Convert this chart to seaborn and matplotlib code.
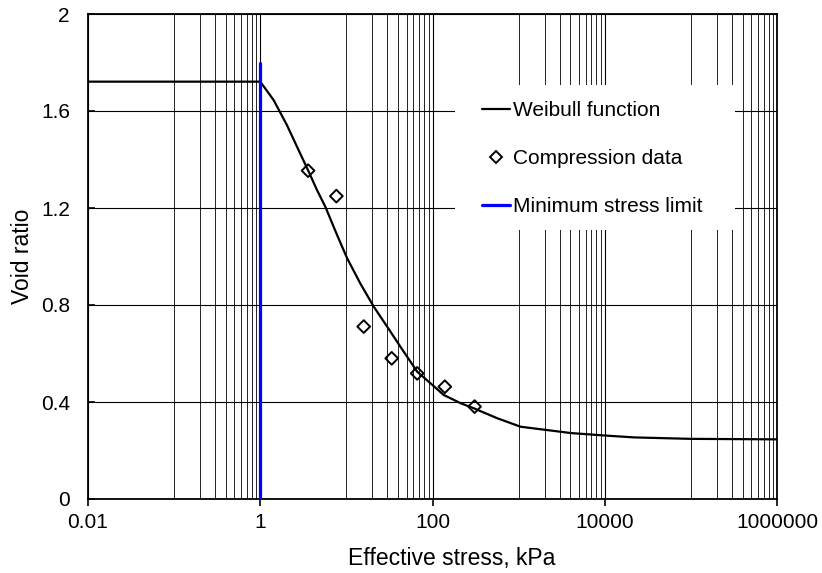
import numpy as np
import pandas as pd
import matplotlib
matplotlib.use("Agg")
import matplotlib.pyplot as plt
from matplotlib.patches import Rectangle
from matplotlib.lines import Line2D
import seaborn as sns

# ---- data ----
weibull_stress = [0.01, 1.0, 1.43, 2.04, 2.67, 3.65, 4.56, 5.70, 7.79, 10.2, 14.5,
                  20.8, 29.7, 42.4, 66.4, 94.8, 135, 212, 302, 565, 1055, 4030,
                  9800, 21900, 100000, 1000000]
weibull_void = [1.721, 1.721, 1.645, 1.542, 1.453, 1.350, 1.274, 1.205, 1.089, 0.993,
                0.889, 0.793, 0.711, 0.628, 0.525, 0.477, 0.429, 0.395, 0.374, 0.333,
                0.298, 0.272, 0.262, 0.254, 0.248, 0.246]

comp_stress = [3.59, 7.65, 15.9, 33.6, 66.4, 139, 308]
comp_void = [1.354, 1.249, 0.711, 0.580, 0.518, 0.463, 0.381]

limit_stress = [1.0, 1.0]
limit_void = [0.0, 1.80]

x_ticks = [0.01, 1, 100, 10000, 1000000]
x_tick_labels = ["0.01", "1", "100", "10000", "1000000"]
y_ticks = [0, 0.4, 0.8, 1.2, 1.6, 2.0]
y_tick_labels = ["0", "0.4", "0.8", "1.2", "1.6", "2"]
minor_mult = [1, 2, 3, 4, 5, 6, 7, 8, 9]
minor_decades = [-1, 1, 3, 5]

labels = ["Weibull function", "Compression data", "Minimum stress limit"]

# ---- style ----
sns.set_theme(style="white")
plt.rcParams["font.family"] = ["Liberation Sans", "DejaVu Sans"]
plt.rcParams["text.color"] = "black"

fig = plt.figure(figsize=(8.22, 5.73), dpi=100)
ax = fig.add_axes([88 / 822, 1 - 499 / 573, (777 - 88) / 822, (499 - 14) / 573])

df_w = pd.DataFrame({"stress": weibull_stress, "void": weibull_void})
df_c = pd.DataFrame({"stress": comp_stress, "void": comp_void})
df_l = pd.DataFrame({"stress": limit_stress, "void": limit_void})

sns.lineplot(data=df_w, x="stress", y="void", ax=ax, color="black", lw=1.6,
             sort=False, estimator=None, zorder=3)
sns.scatterplot(data=df_c, x="stress", y="void", ax=ax, marker="D", s=42,
                facecolor="none", edgecolor="black", linewidth=1.4, zorder=4)
sns.lineplot(data=df_l, x="stress", y="void", ax=ax, color="#0000ff", lw=2.3,
             sort=False, estimator=None, zorder=5)

ax.set_xscale("log")
ax.set_xlim(0.01, 1000000)
ax.set_ylim(0, 2)

ax.set_xticks(x_ticks)
ax.set_xticklabels(x_tick_labels)
minor_pos = [m * 10.0 ** e for e in minor_decades for m in minor_mult]
ax.set_xticks(minor_pos, minor=True)
ax.set_xticklabels([], minor=True)
ax.set_yticks(y_ticks)
ax.set_yticklabels(y_tick_labels)

ax.set_axisbelow(True)
ax.grid(True, which="major", axis="both", color="black", lw=0.8)
ax.grid(True, which="minor", axis="x", color="#222222", lw=0.7)

ax.tick_params(axis="x", which="major", direction="out", length=5, width=1.2,
               labelsize=15, pad=5, colors="black", bottom=True)
ax.tick_params(axis="x", which="minor", length=0)
ax.tick_params(axis="y", which="major", direction="in", length=5, width=1.2,
               labelsize=15, pad=13, colors="black", left=True)

for s in ax.spines.values():
    s.set_color("black")
    s.set_linewidth(1.3)

ax.set_xlabel("Effective stress, kPa", fontsize=16.5, color="black")
ax.set_ylabel("Void ratio", fontsize=16.5, color="black")
ax.xaxis.set_label_coords(0.528, -0.098)
ax.yaxis.set_label_coords(-0.079, 0.5)

# white legend area
x0 = (455 - 88) / 689
x1 = (735 - 88) / 689
y0 = (499 - 230) / 485
y1 = (499 - 85) / 485
ax.add_patch(Rectangle((x0, y0), x1 - x0, y1 - y0, transform=ax.transAxes,
                       facecolor="white", edgecolor="none", zorder=1))

handles = [
    Line2D([], [], color="black", lw=1.6),
    Line2D([], [], color="black", marker="D", markersize=6.5, markerfacecolor="none",
           markeredgewidth=1.4, linestyle="none"),
    Line2D([], [], color="#0000ff", lw=2.3),
]
leg = ax.legend(handles, labels, loc="upper left",
                bbox_to_anchor=((482 - 88) / 689, (499 - 101) / 485),
                frameon=False, fontsize=15, borderpad=0, borderaxespad=0,
                handlelength=1.35, handletextpad=0.12, labelspacing=1.4)
leg.set_zorder(6)

fig.savefig("out.png", dpi=100, facecolor="white")
